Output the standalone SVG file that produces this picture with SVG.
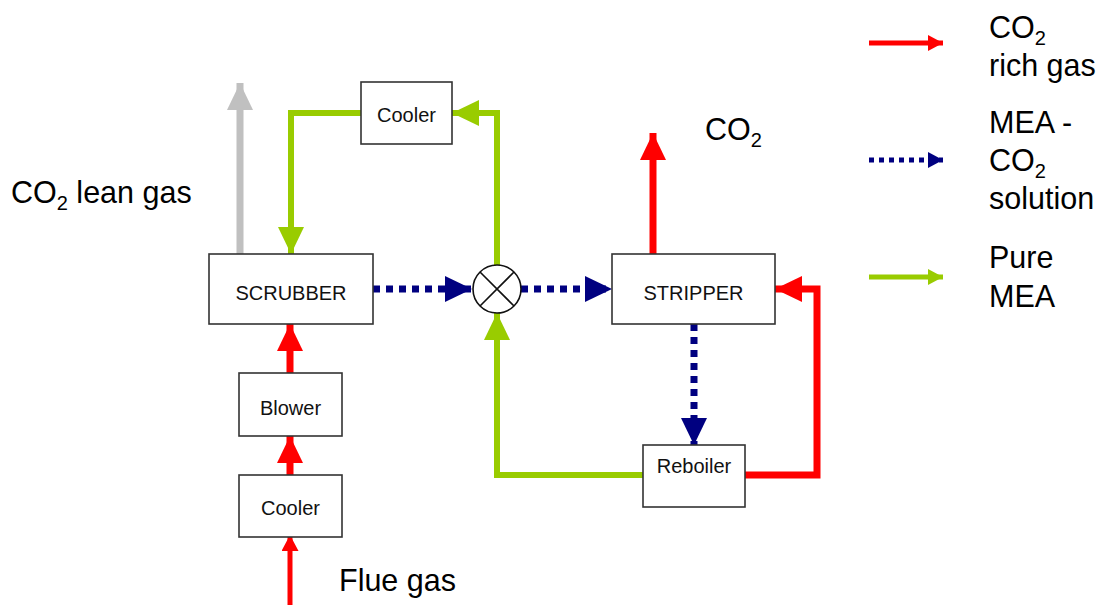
<svg xmlns="http://www.w3.org/2000/svg" width="1099" height="605" viewBox="0 0 1099 605">
<style>
.box{fill:#fff;stroke:#333;stroke-width:1.6}
.lbl{font-family:"Liberation Sans",Arial,sans-serif;font-size:20px;fill:#111;text-anchor:middle}
.big{font-family:"Liberation Sans",Arial,sans-serif;font-size:30.5px;fill:#000}
.sub{font-size:20px}
.g{fill:none;stroke:#99CC00;stroke-width:6}
.r{fill:none;stroke:#FF0000;stroke-width:7}
.n{fill:none;stroke:#000080;stroke-width:7;stroke-dasharray:7 6}
.gr{fill:none;stroke:#C0C0C0;stroke-width:7}
</style>
<defs>
<marker id="hG" markerUnits="userSpaceOnUse" markerWidth="27" markerHeight="27" refX="27" refY="13" orient="auto" viewBox="0 0 27 26"><path d="M0,0 L27,13 L0,26 z" fill="#99CC00"/></marker>
<marker id="hR" markerUnits="userSpaceOnUse" markerWidth="27" markerHeight="27" refX="27" refY="13" orient="auto" viewBox="0 0 27 26"><path d="M0,0 L27,13 L0,26 z" fill="#FF0000"/></marker>
<marker id="hN" markerUnits="userSpaceOnUse" markerWidth="27" markerHeight="27" refX="27" refY="13" orient="auto" viewBox="0 0 27 26"><path d="M0,0 L27,13 L0,26 z" fill="#000080"/></marker>
<marker id="hGr" markerUnits="userSpaceOnUse" markerWidth="27" markerHeight="27" refX="27" refY="13" orient="auto" viewBox="0 0 27 26"><path d="M0,0 L27,13 L0,26 z" fill="#C0C0C0"/></marker>
<marker id="hRs" markerUnits="userSpaceOnUse" markerWidth="17" markerHeight="17" refX="16" refY="8.5" orient="auto" viewBox="0 0 16 17"><path d="M0,0 L16,8.5 L0,17 z" fill="#FF0000"/></marker>
<marker id="lR" markerUnits="userSpaceOnUse" markerWidth="16" markerHeight="16" refX="15" refY="8" orient="auto" viewBox="0 0 15 16"><path d="M0,0 L15,8 L0,16 z" fill="#FF0000"/></marker>
<marker id="lN" markerUnits="userSpaceOnUse" markerWidth="16" markerHeight="16" refX="15" refY="8" orient="auto" viewBox="0 0 15 16"><path d="M0,0 L15,8 L0,16 z" fill="#000080"/></marker>
<marker id="lG" markerUnits="userSpaceOnUse" markerWidth="16" markerHeight="16" refX="15" refY="8" orient="auto" viewBox="0 0 15 16"><path d="M0,0 L15,8 L0,16 z" fill="#99CC00"/></marker>
</defs>
<g id="connectors">
<path class="gr" d="M240,254 V83" marker-end="url(#hGr)"/>
<path class="g" d="M361,113 H291 V254" marker-end="url(#hG)"/>
<path class="g" d="M497,265 V113 H452" marker-end="url(#hG)"/>
<path class="n" d="M373,289 H472" marker-end="url(#hN)"/>
<path class="n" d="M521,289 H612" marker-end="url(#hN)"/>
<path class="r" d="M653,254 V133" marker-end="url(#hR)"/>
<path class="r" d="M745,475 H817 V289 H775" marker-end="url(#hR)"/>
<path class="n" d="M694,324 V445" marker-end="url(#hN)"/>
<path class="g" d="M643,475 H497 V313" marker-end="url(#hG)"/>
<path class="r" d="M290,373 V324" marker-end="url(#hR)"/>
<path class="r" d="M290,475 V436" marker-end="url(#hR)"/>
<path class="r" style="stroke-width:5" d="M290,605 V535" marker-end="url(#hRs)"/>
</g>
<g id="mixer">
<circle cx="497" cy="289" r="24" fill="#fff" stroke="#111" stroke-width="1.6"/>
<path d="M480,272 L514,306 M514,272 L480,306" stroke="#111" stroke-width="1.6"/>
</g>
<g id="cooler-top"><rect class="box" x="361" y="82" width="91" height="62"/><text class="lbl" x="406.5" y="122">Cooler</text></g>
<g id="scrubber"><rect class="box" x="209" y="254" width="164" height="70"/><text class="lbl" x="291" y="300">SCRUBBER</text></g>
<g id="stripper"><rect class="box" x="612" y="254" width="163" height="70"/><text class="lbl" x="693.5" y="300">STRIPPER</text></g>
<g id="reboiler"><rect class="box" x="643" y="445" width="102" height="62"/><text class="lbl" x="694" y="473">Reboiler</text></g>
<g id="blower"><rect class="box" x="239" y="373" width="103" height="63"/><text class="lbl" x="290.5" y="415">Blower</text></g>
<g id="cooler-bottom"><rect class="box" x="239" y="475" width="103" height="62"/><text class="lbl" x="290.5" y="515">Cooler</text></g>
<g id="labels">
<text class="big" x="11" y="203">CO<tspan class="sub" dy="7">2</tspan><tspan dy="-7"> lean gas</tspan></text>
<text class="big" x="705" y="140">CO<tspan class="sub" dy="7">2</tspan></text>
<text class="big" x="339" y="591">Flue gas</text>
</g>
<g id="legend">
<path class="r" style="stroke-width:5" d="M869,43 H943" marker-end="url(#lR)"/>
<path class="n" style="stroke-width:5;stroke-dasharray:5 5" d="M869,160 H943" marker-end="url(#lN)"/>
<path class="g" style="stroke-width:5" d="M869,277 H943" marker-end="url(#lG)"/>
<text class="big" x="989" y="38">CO<tspan class="sub" dy="7">2</tspan></text>
<text class="big" x="989" y="76">rich gas</text>
<text class="big" x="989" y="133">MEA -</text>
<text class="big" x="989" y="171">CO<tspan class="sub" dy="7">2</tspan></text>
<text class="big" x="989" y="209">solution</text>
<text class="big" x="989" y="268">Pure</text>
<text class="big" x="989" y="307">MEA</text>
</g>
</svg>
